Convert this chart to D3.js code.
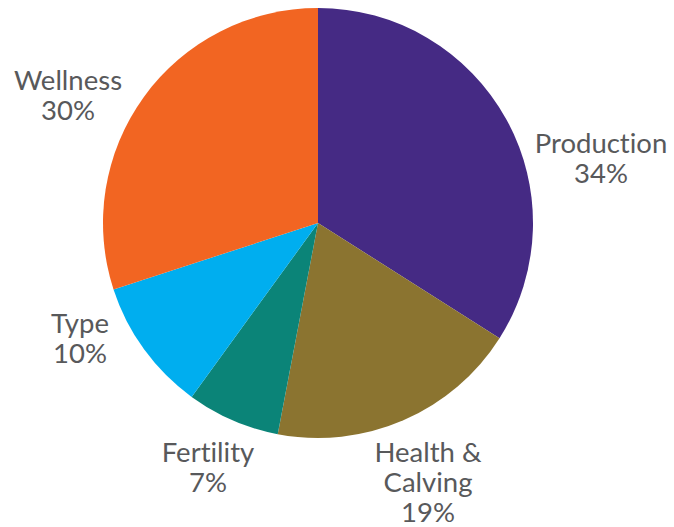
<!DOCTYPE html>
<html>
<head>
<meta charset="utf-8">
<script src="https://cdn.jsdelivr.net/npm/d3@7"></script>
<style>
  body { margin: 0; background: #fff; }
  text { font-family: Lato, "Open Sans", sans-serif; fill: #58595b; font-variant-ligatures: none; }
</style>
</head>
<body>
<div id="chart"></div>
<script>
const categories = ['Production', 'Health & Calving', 'Fertility', 'Type', 'Wellness'];
const values = [34, 19, 7, 10, 30];
const colours = ['#452a84', '#8b7430', '#0b8478', '#00aeef', '#f26522'];

// label anchors (centre x, first baseline y), hand placed like the original
const labelPos = [[601, 153], [428, 462], [208, 462], [80, 333], [68, 90]];

const width = 674, height = 527;
const cx = 318, cy = 223, radius = 215;

const svg = d3.select('#chart').append('svg')
    .attr('width', width)
    .attr('height', height);

const g = svg.append('g')
    .attr('transform', 'translate(' + cx + ',' + cy + ')');

const pie = d3.pie().sort(null).value(d => d);
const arc = d3.arc().innerRadius(0).outerRadius(radius);

g.selectAll('path')
    .data(pie(values))
    .join('path')
    .attr('d', arc)
    .attr('fill', (d, i) => colours[i]);

// ... labels
categories.forEach((c, i) => {
    const lines = c === 'Health & Calving' ? ['Health &', 'Calving'] : [c];
    lines.push(values[i] + '%');
    const t = svg.append('text')
        .attr('text-anchor', 'middle')
        .attr('font-size', 27.5);
    lines.forEach((l, j) => {
        t.append('tspan')
            .attr('x', labelPos[i][0])
            .attr('y', labelPos[i][1] + j * 30)
            .text(l);
    });
});
</script>
</body>
</html>
